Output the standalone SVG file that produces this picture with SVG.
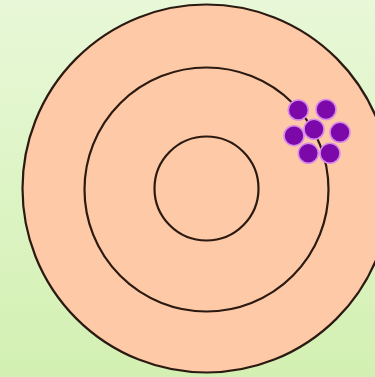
<svg xmlns="http://www.w3.org/2000/svg" width="375" height="377" viewBox="0 0 375 377">
<defs>
<linearGradient id="bg" x1="0" y1="0" x2="0" y2="1">
<stop offset="0" stop-color="#e8f8d8"/>
<stop offset="1" stop-color="#d3f0b2"/>
</linearGradient>
<style>
.ring{fill:#fdc9a6;stroke:#2b1a12;stroke-width:2.2}
.ring2{fill:none;stroke:#2b1a12;stroke-width:2.2}
.dot{fill:#7c08aa;stroke:#d88ae8;stroke-width:1.6}
</style>
</defs>
<rect width="375" height="377" fill="url(#bg)"/>
<g id="target">
<circle class="ring" cx="206.5" cy="188.5" r="184"/>
<circle class="ring2" cx="206.5" cy="189.5" r="122"/>
<circle class="ring2" cx="206.5" cy="188.5" r="52"/>
</g>
<g id="shots">
<circle class="dot" cx="298.3" cy="110" r="10"/>
<circle class="dot" cx="326" cy="109.5" r="10"/>
<circle class="dot" cx="314" cy="129.3" r="10"/>
<circle class="dot" cx="294" cy="135.7" r="10"/>
<circle class="dot" cx="340" cy="132.3" r="10"/>
<circle class="dot" cx="308.3" cy="153.3" r="10"/>
<circle class="dot" cx="330" cy="153.3" r="10"/>
</g>
</svg>
